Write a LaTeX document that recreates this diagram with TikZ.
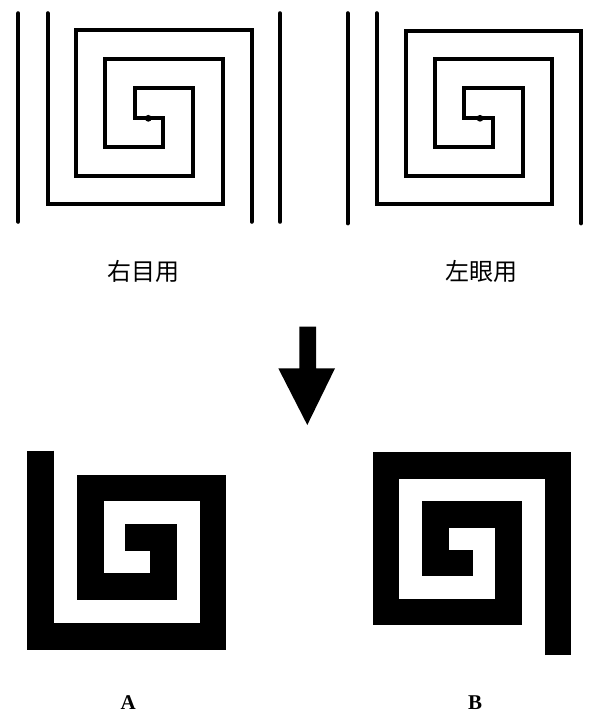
\documentclass[tikz,border=0pt]{standalone}
\usepackage{fontspec}
\setmainfont{Liberation Serif}
\newfontfamily\cjk{Noto Sans CJK JP}
\begin{document}
\begin{tikzpicture}[x=1pt,y=-1pt,
  thin spiral/.style={line width=4.2pt, line join=miter, line cap=round},
  thick spiral/.style={line width=26.5pt, line join=miter, line cap=butt},
  cjklabel/.style={font=\cjk\fontsize{24}{28}\selectfont, inner sep=0pt},
  letterlabel/.style={font=\bfseries\fontsize{21}{25}\selectfont, inner sep=0pt, anchor=base}]
\useasboundingbox (0,0) rectangle (606,715);
\fill[white] (0,0) rectangle (606,715);

% ---- top left (right eye) ----
\draw[thin spiral] (18.3,13.3) -- (18.3,221.7);
\draw[thin spiral] (280,13.3) -- (280,221.7);
\draw[thin spiral] (47.7,13.3) -- (47.7,204) -- (222.7,204) -- (222.7,59.3) -- (105,59.3) -- (105,146.7) -- (163.3,146.7) -- (163.3,118.3) -- (148.3,118.3);
\draw[thin spiral] (251.7,221.7) -- (251.7,30) -- (76,30) -- (76,176) -- (193.3,176) -- (193.3,88.3) -- (135,88.3) -- (135,118.3) -- (148.3,118.3);
\fill (148.3,118.3) circle (3.4pt);

% ---- top right (left eye) ----
\draw[thin spiral] (347.7,13.3) -- (347.7,223.3);
\draw[thin spiral] (581,223.3) -- (581,30.7) -- (406,30.7) -- (406,176) -- (522.7,176) -- (522.7,88.3) -- (464,88.3) -- (464,118.3) -- (480,118.3);
\draw[thin spiral] (376.7,13.3) -- (376.7,204) -- (551.7,204) -- (551.7,59.3) -- (435,59.3) -- (435,146.7) -- (493.3,146.7) -- (493.3,118.3) -- (480,118.3);
\fill (480,118.3) circle (3.4pt);

% ---- labels ----
\node[cjklabel] (lr) at (143,271.7) {右目用};
\node[cjklabel] (ll) at (481.7,271.7) {左眼用};

% ---- arrow ----
\fill (299.3,326.7) -- (316,326.7) -- (316,368.3) -- (335,368.3) -- (307.3,425) -- (278.3,368.3) -- (299.3,368.3) -- cycle;

% ---- bottom A ----
\draw[thick spiral] (40.7,450.7) -- (40.7,636.3) -- (213,636.3) -- (213,487.8) -- (90.3,487.8) -- (90.3,586.7) -- (163.3,586.7) -- (163.3,537.5) -- (125,537.5);

% ---- bottom B ----
\draw[thick spiral] (558,655) -- (558,465.3) -- (386,465.3) -- (386,612) -- (508.7,612) -- (508.7,514.5) -- (435.5,514.5) -- (435.5,563) -- (473.3,563);

\node[letterlabel] (la) at (128.3,709) {A};
\node[letterlabel] (lb) at (475,709) {B};
\end{tikzpicture}
\end{document}
